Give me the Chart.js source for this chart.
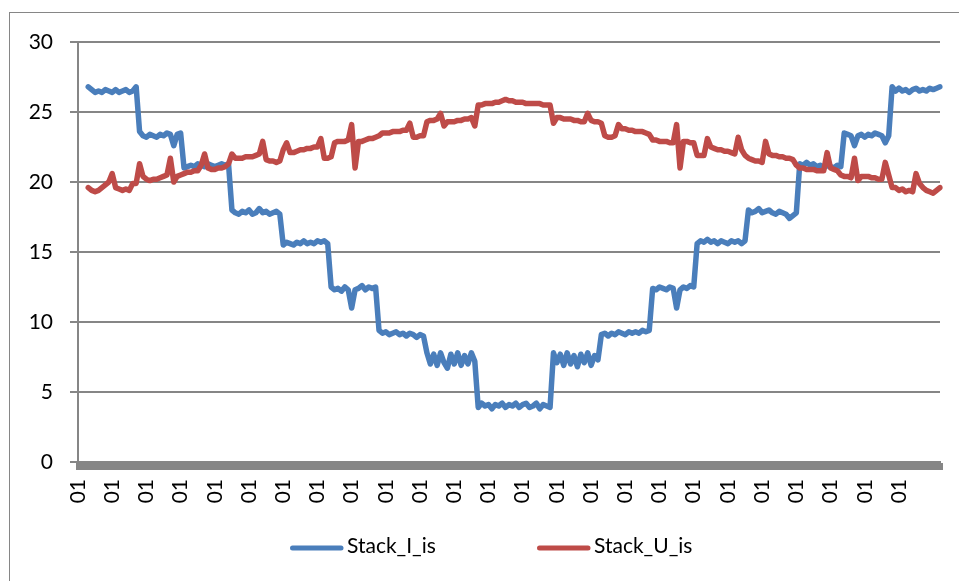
<!DOCTYPE html>
<html>
<head>
<meta charset="utf-8">
<script src="https://cdn.jsdelivr.net/npm/chart.js@4"></script>
<style>
  body { margin: 0; background: #fff; }
  #frame { position: absolute; left: 9px; top: 12px; width: 1100px; height: 800px; border: 1px solid #868686; }
  #wrap { position: absolute; left: 0; top: 0; width: 959px; height: 581px; }
</style>
</head>
<body>
<div id="frame"></div>
<div id="wrap"><canvas id="stackChart"></canvas></div>
<script>
// 253 samples, one "01" label every 10th sample
const tickLabels = ['01', '01', '01', '01', '01', '01', '01', '01', '01', '01', '01', '01', '01',
                    '01', '01', '01', '01', '01', '01', '01', '01', '01', '01', '01', '01'];
const categories = Array.from({ length: 253 }, (_, i) => i);

const stackI = [null, null, null,
  26.8, 26.6, 26.4, 26.5, 26.4, 26.6, 26.5, 26.4, 26.6, 26.4, 26.5, 26.6, 26.4, 26.5, 26.8,
  23.6, 23.3, 23.2, 23.4, 23.3, 23.2, 23.4, 23.3, 23.5, 23.4, 22.6, 23.4, 23.5,
  21.0, 21.1, 21.2, 21.1, 21.3, 21.2, 21.1, 21.3, 21.2, 21.1, 21.2, 21.3, 21.2, 21.3,
  18.0, 17.8, 17.7, 17.9, 17.8, 18.0, 17.7, 17.8, 18.1, 17.8, 17.9, 17.7, 17.8, 17.9, 17.7,
  15.5, 15.7, 15.6, 15.5, 15.7, 15.6, 15.8, 15.6, 15.7, 15.6, 15.8, 15.7, 15.8, 15.6,
  12.5, 12.3, 12.4, 12.2, 12.5, 12.3, 11.0, 12.3, 12.4, 12.6, 12.3, 12.5, 12.4, 12.5,
  9.4, 9.2, 9.3, 9.1, 9.2, 9.3, 9.1, 9.2, 9.0, 9.2, 9.1, 8.9, 9.1, 9.0,
  7.8, 7.0, 7.7, 6.9, 7.8, 7.1, 6.7, 7.7, 7.0, 7.8, 6.9, 7.6, 7.0, 7.8, 7.2,
  3.9, 4.2, 4.0, 4.1, 3.8, 4.1, 4.0, 4.2, 3.9, 4.1, 4.0, 4.2, 3.9, 4.1, 4.2, 3.9, 4.0, 4.2, 3.8, 4.1, 4.0, 3.9,
  7.8, 7.1, 7.7, 6.9, 7.8, 7.0, 7.6, 6.8, 7.7, 7.1, 7.8, 6.9, 7.6, 7.3,
  9.1, 9.2, 9.0, 9.2, 9.1, 9.3, 9.2, 9.1, 9.3, 9.2, 9.3, 9.2, 9.4, 9.3, 9.4,
  12.4, 12.3, 12.5, 12.4, 12.3, 12.5, 12.4, 11.0, 12.3, 12.5, 12.4, 12.6, 12.5,
  15.6, 15.8, 15.7, 15.9, 15.7, 15.8, 15.6, 15.8, 15.7, 15.6, 15.8, 15.7, 15.8, 15.6, 15.8,
  18.0, 17.8, 17.9, 18.1, 17.8, 17.9, 18.0, 17.8, 17.7, 17.9, 17.8, 17.7, 17.4, 17.6, 17.8,
  21.3, 21.2, 21.4, 21.2, 21.3, 21.1, 21.2, 21.0, 21.2, 21.1, 21.0, 21.2, 21.1,
  23.5, 23.4, 23.3, 22.6, 23.3, 23.4, 23.2, 23.4, 23.3, 23.5, 23.4, 23.3, 22.8, 23.3,
  26.8, 26.5, 26.7, 26.5, 26.6, 26.4, 26.6, 26.7, 26.5, 26.6, 26.5, 26.7, 26.6, 26.7, 26.8];

const stackU = [null, null, null,
  19.6, 19.4, 19.3, 19.4, 19.6, 19.8, 20.0, 20.6, 19.6, 19.5, 19.4, 19.5, 19.4, 19.9, 19.9,
  21.3, 20.4, 20.2, 20.1, 20.2, 20.2, 20.3, 20.4, 20.5, 21.7, 20.0, 20.4, 20.5,
  20.6, 20.7, 20.7, 20.8, 20.8, 21.2, 22.0, 21.0, 20.9, 20.9, 21.0, 21.0, 21.1, 21.3,
  22.0, 21.7, 21.7, 21.7, 21.8, 21.8, 21.8, 21.9, 22.0, 22.9, 21.6, 21.5, 21.5, 21.4, 21.5,
  22.3, 22.8, 22.1, 22.1, 22.2, 22.3, 22.3, 22.4, 22.4, 22.5, 22.5, 23.1, 21.7, 21.7,
  21.8, 22.8, 22.9, 22.9, 22.9, 23.0, 24.1, 21.0, 22.9, 22.9, 23.0, 23.1, 23.1, 23.2,
  23.3, 23.5, 23.5, 23.5, 23.6, 23.6, 23.6, 23.7, 23.7, 24.2, 23.2, 23.2, 23.3, 23.3,
  24.3, 24.4, 24.4, 24.5, 24.9, 24.0, 24.3, 24.3, 24.3, 24.4, 24.4, 24.5, 24.5, 24.6, 24.0,
  25.5, 25.5, 25.6, 25.6, 25.6, 25.7, 25.7, 25.8, 25.9, 25.8, 25.8, 25.7, 25.7, 25.7, 25.6, 25.6, 25.6, 25.6, 25.6, 25.5, 25.5, 25.5,
  24.2, 24.6, 24.6, 24.5, 24.5, 24.5, 24.4, 24.4, 24.3, 24.3, 24.9, 24.4, 24.3, 24.3,
  24.2, 23.3, 23.2, 23.2, 23.3, 24.1, 23.8, 23.8, 23.7, 23.7, 23.6, 23.6, 23.6, 23.5, 23.4,
  23.0, 23.0, 22.9, 22.9, 22.9, 22.8, 22.8, 24.1, 21.0, 22.9, 22.9, 22.8, 22.8,
  21.9, 21.9, 21.9, 23.1, 22.5, 22.4, 22.3, 22.3, 22.2, 22.2, 22.1, 22.0, 23.2, 22.3, 21.9,
  21.7, 21.6, 21.5, 21.5, 21.4, 22.9, 22.0, 21.9, 21.9, 21.8, 21.8, 21.7, 21.7, 21.6, 21.2,
  21.0, 21.0, 20.9, 20.9, 20.9, 20.8, 20.8, 20.8, 22.1, 21.0, 20.9, 20.8, 20.5,
  20.4, 20.4, 20.3, 21.7, 20.1, 20.4, 20.4, 20.4, 20.3, 20.3, 20.2, 20.2, 21.4, 20.5,
  19.6, 19.6, 19.4, 19.5, 19.3, 19.4, 19.3, 20.6, 19.9, 19.6, 19.4, 19.3, 19.2, 19.4, 19.6];

const seriesNames = ['Stack_I_is', 'Stack_U_is'];
const seriesColors = ['#4a7ebb', '#be4b48'];
const axisGray = '#868686';

Chart.defaults.font.family = 'Lato';
Chart.defaults.font.size = 21;
Chart.defaults.color = '#000';

// Excel-style legend: short thick line followed by the name
const lineLegend = {
  id: 'lineLegend',
  afterDraw(chart) {
    const ctx = chart.ctx;
    const starts = [290, 537];
    const y = 548;
    ctx.save();
    ctx.font = '21px Lato';
    ctx.textBaseline = 'alphabetic';
    chart.data.datasets.forEach((ds, i) => {
      const x = starts[i];
      ctx.strokeStyle = ds.borderColor;
      ctx.lineWidth = 5;
      ctx.lineCap = 'round';
      ctx.beginPath();
      ctx.moveTo(x + 2.5, y);
      ctx.lineTo(x + 51, y);
      ctx.stroke();
      ctx.fillStyle = '#000';
      ctx.fillText(ds.label, x + 57, y + 5);
    });
    ctx.restore();
  }
};

const ctx = document.getElementById('stackChart').getContext('2d');
const stackChart = new Chart(ctx, {
  type: 'line',
  data: {
    labels: categories,
    datasets: [{
      label: seriesNames[0],
      data: stackI,
      borderColor: seriesColors[0],
      backgroundColor: seriesColors[0],
      borderWidth: 5.5,
      pointRadius: 0,
      tension: 0,
      borderJoinStyle: 'round',
      borderCapStyle: 'round',
      order: 1
    }, {
      label: seriesNames[1],
      data: stackU,
      borderColor: seriesColors[1],
      backgroundColor: seriesColors[1],
      borderWidth: 5.5,
      pointRadius: 0,
      tension: 0,
      borderJoinStyle: 'round',
      borderCapStyle: 'round',
      order: 0
    }]
  },
  options: {
    responsive: true,
    maintainAspectRatio: false,
    animation: false,
    layout: { padding: { top: 42, right: 19, bottom: 59, left: 0 } },
    plugins: {
      legend: { display: false },
      tooltip: { enabled: false }
    },
    scales: {
      x: {
        offset: false,
        afterFit: s => { s.height = 60; s.paddingLeft = 0; s.paddingRight = 0; },
        grid: { drawOnChartArea: false, tickLength: 8, tickWidth: 5, tickColor: axisGray },
        border: { color: axisGray, width: 2 },
        ticks: {
          autoSkip: false,
          minRotation: 90,
          maxRotation: 90,
          padding: 9,
          callback: (v, i) => (i % 10 === 0 ? (tickLabels[i / 10] ?? '') : '')
        }
      },
      y: {
        min: 0,
        max: 30,
        afterFit: s => { s.width = 78; },
        grid: { color: axisGray, lineWidth: 2, tickLength: 8 },
        border: { color: axisGray, width: 2 },
        ticks: { stepSize: 5, padding: 17 }
      }
    }
  },
  plugins: [lineLegend]
});
</script>
</body>
</html>
